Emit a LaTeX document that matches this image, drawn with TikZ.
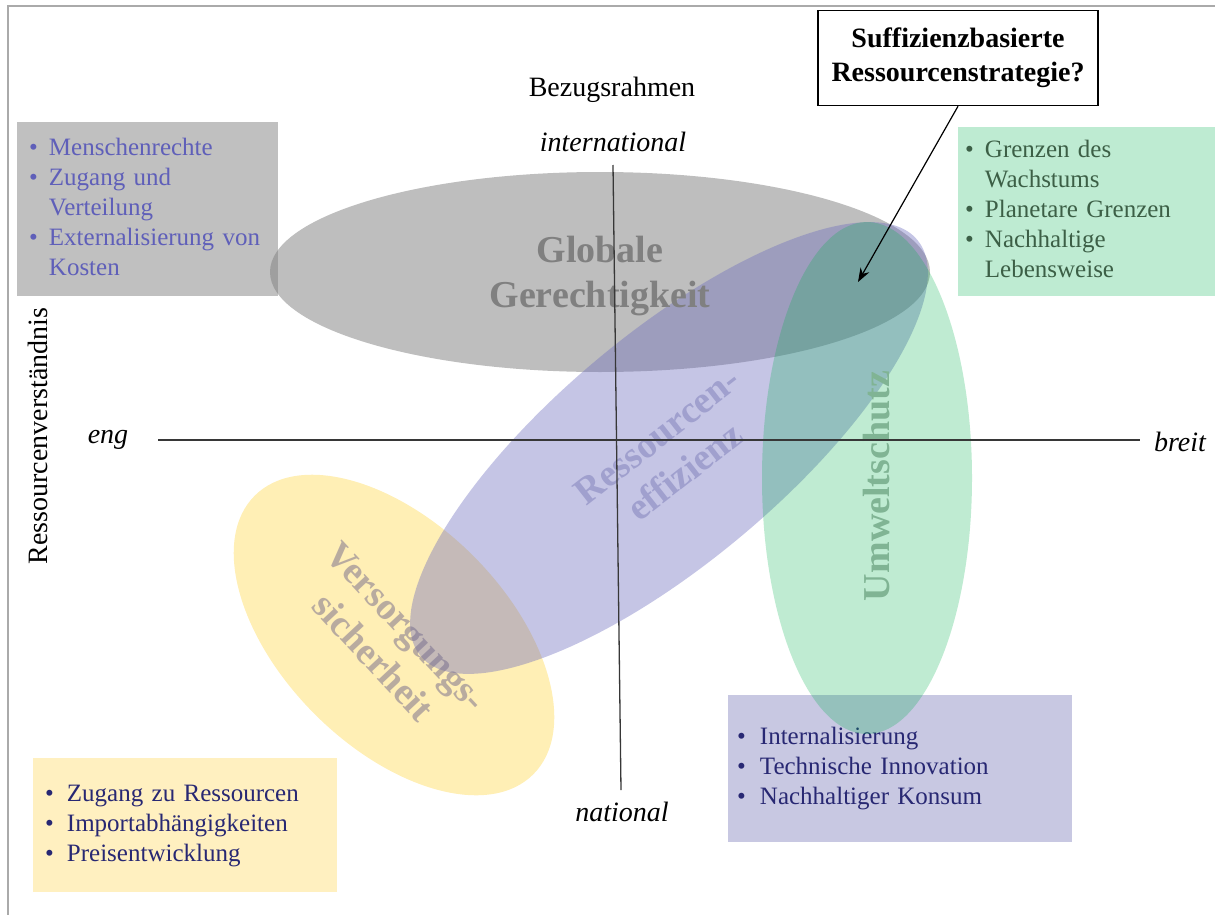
\documentclass[tikz,border=0pt]{standalone}
\usepackage{fontspec}
\setmainfont{Liberation Serif}
\usetikzlibrary{positioning,arrows.meta}
\definecolor{framecol}{RGB}{170,170,170}
\definecolor{axiscol}{RGB}{55,55,55}
\definecolor{boxgrey}{RGB}{192,192,192}
\definecolor{boxgreen}{RGB}{190,235,210}
\definecolor{boxyellow}{RGB}{255,240,192}
\definecolor{boxlav}{RGB}{200,200,226}
\definecolor{txtgrey}{RGB}{95,95,185}
\definecolor{txtgreen}{RGB}{60,95,70}
\definecolor{txtnavy}{RGB}{40,40,115}
\definecolor{ellgrey}{RGB}{130,130,130}
\definecolor{elllav}{RGB}{110,110,190}
\definecolor{ellgreen}{RGB}{0,175,75}
\definecolor{ellyellow}{RGB}{255,225,120}
\definecolor{lblgrey}{RGB}{128,128,128}
\definecolor{lbllav}{RGB}{160,160,206}
\definecolor{lblgreen}{RGB}{128,180,148}
\definecolor{lblyellow}{RGB}{115,105,140}
\tikzset{>=Stealth}

\begin{document}
\begin{tikzpicture}[x=1pt,y=-1pt,
  infobox/.style={anchor=north west,inner ysep=0pt,font=\fontsize{25}{30}\selectfont},
  axislabel/.style={font=\fontsize{28}{34}\selectfont\itshape},
  bubble/.style={font=\fontsize{38}{45}\selectfont\bfseries,align=center}]
\useasboundingbox (0,0) rectangle (1215,915);
\draw[framecol,line width=2pt] (8,915) -- (8,6) -- (1215,6);

% info boxes
\node[infobox,fill=boxgrey,text=txtgrey,text width=237pt,inner xsep=12pt,minimum height=174pt] (gbox) at (17,122)
  {\begin{tabular}{@{}l@{\hspace{11pt}}l@{}}
  \textbullet & Menschenrechte\\
  \textbullet & Zugang und\\
   & Verteilung\\
  \textbullet & Externalisierung von\\
   & Kosten
  \end{tabular}};
\node[infobox,fill=boxgreen,text=txtgreen,text width=243pt,inner xsep=7pt,minimum height=169pt] (ubox) at (958,127)
  {\begin{tabular}{@{}l@{\hspace{11pt}}l@{}}
  \textbullet & Grenzen des\\
   & Wachstums\\
  \textbullet & Planetare Grenzen\\
  \textbullet & Nachhaltige\\
   & Lebensweise
  \end{tabular}};
\node[infobox,fill=boxyellow,text=txtnavy,text width=280pt,inner xsep=12pt,minimum height=134pt] (vbox) at (33,758)
  {\begin{tabular}{@{}l@{\hspace{13pt}}l@{}}
  \textbullet & Zugang zu Ressourcen\\
  \textbullet & Importabhängigkeiten\\
  \textbullet & Preisentwicklung
  \end{tabular}};
\node[infobox,fill=boxlav,text=txtnavy,text width=326pt,inner xsep=9pt,minimum height=147pt] (rbox) at (728,695)
  {\begin{tabular}{@{}l@{\hspace{14pt}}l@{}}
  \textbullet & Internalisierung\\
  \textbullet & Technische Innovation\\
  \textbullet & Nachhaltiger Konsum
  \end{tabular}};

% bubbles
\fill[ellgrey,opacity=.52] (600,272) ellipse [x radius=330, y radius=100];
\fill[ellyellow,opacity=.55,rotate around={-45:(394,635)}] (394,635) ellipse [x radius=197, y radius=112];
\fill[elllav,opacity=.4,rotate around={40:(669,448)}] (669,448) ellipse [x radius=324, y radius=114];
\fill[ellgreen,opacity=.25] (867,478) ellipse [x radius=105, y radius=256];

\node[bubble,text=lblgrey] (gg) at (600,276) {Globale\\Gerechtigkeit};
\node[bubble,text=lbllav,rotate=38] (re) at (671,454) {Ressourcen-\\effizienz};
\node[bubble,text=lblgreen,rotate=90] (us) at (877,486) {Umweltschutz};
\node[bubble,text=lblyellow,text opacity=.5,rotate=-47] (vs) at (390,642) {Versorgungs-\\sicherheit};

% axes
\coordinate (xl) at (158,440);
\coordinate (xr) at (1140,440);
\coordinate (yt) at (613,165);
\coordinate (yb) at (621,790);
\draw[axiscol,line width=1.3pt] (xl) -- (xr);
\draw[axiscol,line width=1.3pt] (yt) -- (yb);
\node[axislabel] (eng) at (108,440) {eng};
\node[axislabel] (breit) at (1180,442) {breit};
\node[axislabel] (intl) at (613,142) {international};
\node[axislabel] (natl) at (622,812) {national};
\node[font=\fontsize{28}{34}\selectfont] (bez) at (612,90) {Bezugsrahmen};
\node[font=\fontsize{28}{34}\selectfont,rotate=90] (rv) at (38,436) {Ressourcenverständnis};

% question
\node[draw,fill=white,line width=1.5pt,minimum width=280pt,minimum height=95pt,align=center,
  font=\fontsize{28}{34}\selectfont\bfseries] (suff) at (958,58) {Suffizienzbasierte\\Ressourcenstrategie?};
\coordinate (hit) at (858,282);
\draw[->,line width=1.2pt,>={Stealth[length=14pt,width=10pt]}] (suff.south) -- (hit);
\end{tikzpicture}
\end{document}
